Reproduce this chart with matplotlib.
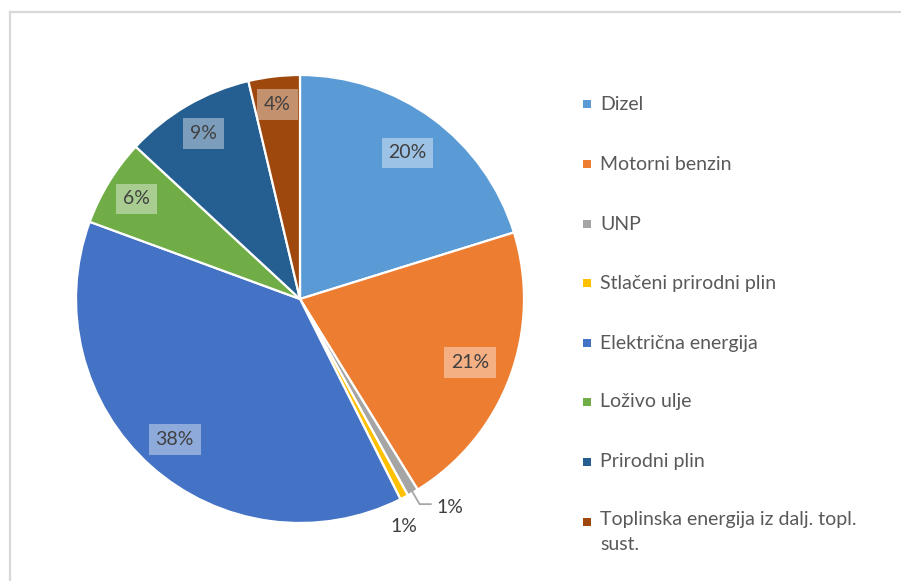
import numpy as np
import matplotlib
matplotlib.use("Agg")
import matplotlib.pyplot as plt
from matplotlib.patches import Rectangle
from matplotlib.lines import Line2D

plt.rcParams['font.family'] = ['Lato', 'DejaVu Sans']

categories = ["Dizel", "Motorni benzin", "UNP", "Stlačeni prirodni plin",
              "Električna energija", "Loživo ulje", "Prirodni plin",
              "Toplinska energija iz dalj. topl.\nsust."]
shares = [20.2, 21.0, 0.8, 0.6, 38.0, 6.3, 9.4, 3.7]
colors = ["#5B9BD5", "#ED7D31", "#A5A5A5", "#FFC000", "#4472C4",
          "#70AD47", "#255E91", "#9E480E"]

W, H = 901, 581
fig = plt.figure(figsize=(W / 100, H / 100), dpi=100)
fig.patch.set_facecolor("white")

# chart frame (light grey, open to the right and bottom)
fig.add_artist(Line2D([9.5 / W, 9.5 / W], [0, (H - 12) / H], transform=fig.transFigure,
                      color="#D9D9D9", lw=1.6))
fig.add_artist(Line2D([9.5 / W, 1], [(H - 12) / H, (H - 12) / H], transform=fig.transFigure,
                      color="#D9D9D9", lw=1.6))

cx, cy, R = 300, 299, 224
ax = fig.add_axes([(cx - R) / W, (H - cy - R) / H, 2 * R / W, 2 * R / H])

wedges, _ = ax.pie(shares, colors=colors, startangle=90, counterclock=False, radius=1,
                   wedgeprops=dict(edgecolor="white", linewidth=1.6))
ax.set_xlim(-1, 1)
ax.set_ylim(-1, 1)
ax.set_aspect("equal")
ax.axis("off")

txt_color = "#404040"
fs = 14
# radial position of each in-slice label
label_r = [0.81, 0.81, None, None, 0.84, 0.855, 0.855, 0.875]
for i, (w, v) in enumerate(zip(wedges, shares)):
    mid = np.deg2rad((w.theta1 + w.theta2) / 2)
    label = f"{int(np.floor(v + 0.5))}%"
    if label_r[i] is not None:
        r = label_r[i]
        ax.text(r * np.cos(mid), r * np.sin(mid), label, ha="center", va="center",
                fontsize=fs, color=txt_color,
                bbox=dict(boxstyle="square,pad=0.35", facecolor="white",
                          edgecolor="none", alpha=0.4))
    elif i == 2:
        # outside label with leader line
        x0, y0 = 0.99 * np.cos(mid), 0.99 * np.sin(mid)
        x1, y1 = 1.06 * np.cos(mid), 1.06 * np.sin(mid)
        x2 = x1 + 0.05
        ax.plot([x0, x1, x2], [y0, y1, y1], color="#A6A6A6", lw=1.3, clip_on=False)
        ax.text(x2 + 0.025, y1 - 0.015, label, ha="left", va="center",
                fontsize=fs, color=txt_color)
    else:
        r = 1.12
        ax.text(r * np.cos(mid) - 0.055, r * np.sin(mid) - 0.025, label, ha="center",
                va="center", fontsize=fs, color=txt_color)

# legend
leg_color = "#595959"
ys = [104, 164, 224, 283, 343, 402, 462, 522]
for name, col, y in zip(categories, colors, ys):
    fig.add_artist(Rectangle((583 / W, (H - y - 4) / H), 8 / W, 8 / H,
                             transform=fig.transFigure, facecolor=col, edgecolor="none"))
    if "\n" in name:
        fig.text(600 / W, (H - y + 11) / H, name, ha="left", va="top",
                 fontsize=fs, color=leg_color, linespacing=1.6)
    else:
        fig.text(600 / W, (H - y) / H, name, ha="left", va="center",
                 fontsize=fs, color=leg_color)

fig.savefig("out.png", dpi=100, facecolor="white")
